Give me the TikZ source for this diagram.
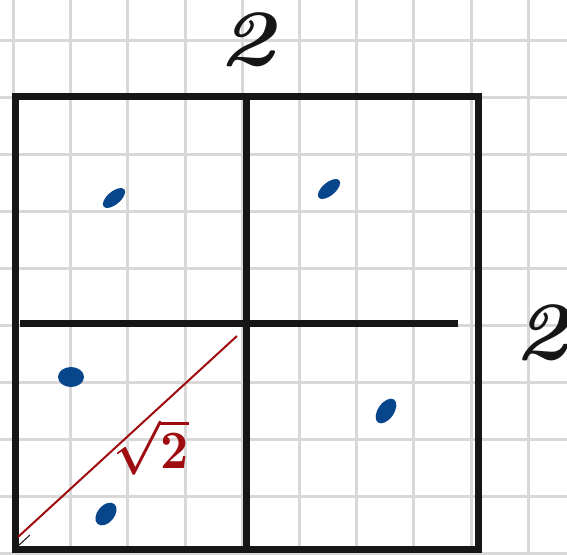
\documentclass[tikz,border=0pt]{standalone}
\usepackage{fontspec}
\usepackage{graphicx}
\usetikzlibrary{shapes.geometric}
\definecolor{gridgray}{RGB}{216,216,216}
\definecolor{inkblack}{RGB}{22,22,22}
\definecolor{inkblue}{RGB}{8,70,140}
\definecolor{inkred}{RGB}{158,12,16}
\tikzset{
  wall/.style={draw=inkblack,line width=7pt},
  blob/.style={ellipse,fill=inkblue,inner sep=0pt,minimum width=27pt,minimum height=13pt,rotate=40},
  side/.style={text=inkblack,font=\bfseries\itshape},
  diag/.style={text=inkred,font=\boldmath}
}
\begin{document}
\begin{tikzpicture}[x=1pt,y=-1pt]
  \useasboundingbox (0,0) rectangle (567,554);
  \fill[white] (0,0) rectangle (567,554);

  % squared paper
  \begin{scope}[draw=gridgray,line width=3pt]
    \foreach \i in {0,...,9}
      \draw (13.5+57.2*\i,0) -- (13.5+57.2*\i,554);
    \foreach \j in {0,...,9}
      \draw (0,40+57*\j) -- (567,40+57*\j);
  \end{scope}

  \coordinate (tl) at (15.5,96);
  \coordinate (tr) at (478,96);
  \coordinate (br) at (478,549.5);
  \coordinate (bl) at (15.5,549.5);
  \coordinate (mt) at (246.5,96);
  \coordinate (mb) at (246.5,549.5);
  \coordinate (ml) at (20,323);
  \coordinate (mr) at (458,323);

  \draw[wall] (tl) -- (tr) -- (br) -- (bl) -- cycle;
  \draw[wall] (mt) -- (mb);
  \draw[wall] (ml) -- (mr);

  % diagonal of the small square
  \coordinate (d0) at (18,537);
  \coordinate (d1) at (237,336);
  \draw[inkred,line width=2pt] (d0) -- (d1);
  \coordinate (k0) at (19,545);
  \coordinate (k1) at (30,535);
  \draw[inkblack,line width=1pt] (k0) -- (k1);
  \node[diag] (sqrttwo) at (151,447) {\scalebox{4.9}[5.4]{$\sqrt{2}$}};

  \node[side] (top) at (247,40) {\scalebox{9.5}[8]{2}};
  \node[side] (right) at (541,333) {\scalebox{9}[8.3]{2}};

  \begin{scope}[every node/.style={blob}]
    \node (p1) at (114,198) {};
    \node (p2) at (329,189) {};
    \node[minimum width=26pt,minimum height=20pt,rotate=-40] (p3) at (71,377) {};
    \node[minimum width=28pt,minimum height=16pt,rotate=15] (p4) at (386,411) {};
    \node[minimum width=26pt,minimum height=17pt,rotate=10] (p5) at (106,514) {};
  \end{scope}
\end{tikzpicture}
\end{document}
